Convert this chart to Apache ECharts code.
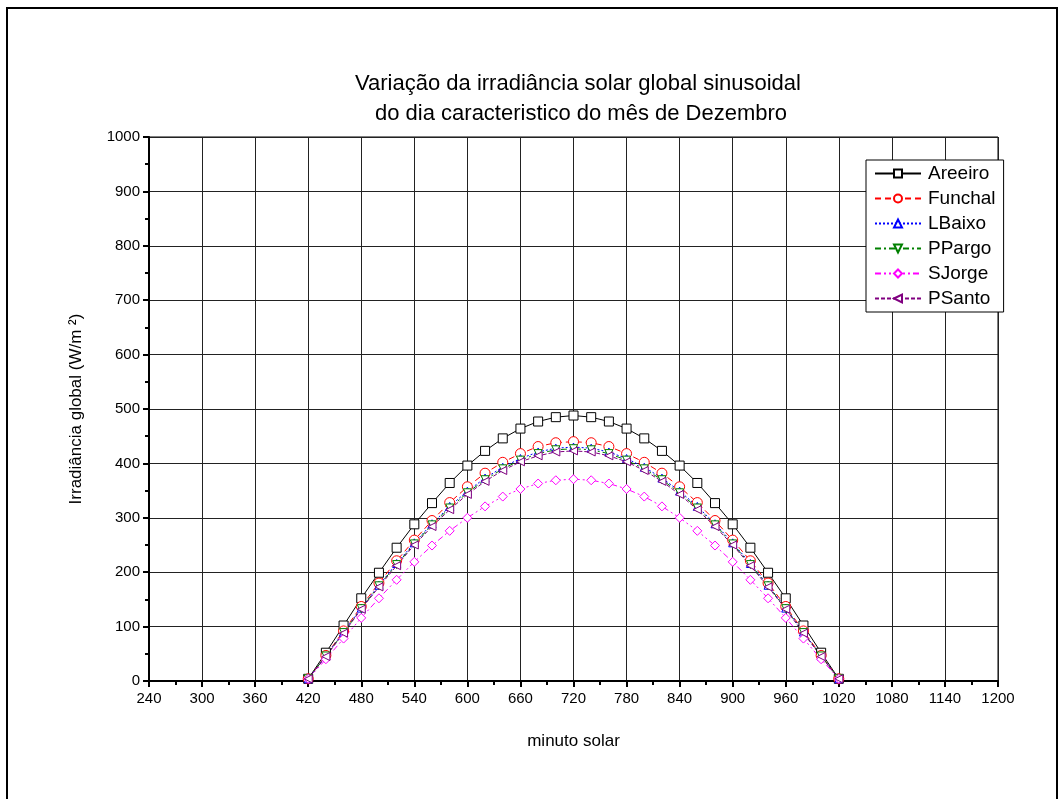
<!DOCTYPE html>
<html>
<head>
    <meta charset="utf-8">
    <title>Irradiância Dezembro</title>
    <script src="https://cdn.jsdelivr.net/npm/echarts@6/dist/echarts.min.js"></script>
    <style>
        html, body { margin: 0; padding: 0; background: #fff; }
        #main { width: 1062px; height: 799px; }
    </style>
</head>
<body>
<div id="main"></div>
<script type="text/javascript">
    // minuto solar, de 20 em 20
    var minutos = [420, 440, 460, 480, 500, 520, 540, 560, 580, 600, 620, 640, 660, 680, 700, 720,
        740, 760, 780, 800, 820, 840, 860, 880, 900, 920, 940, 960, 980, 1000, 1020];

    var areeiro = [4, 52, 102, 152, 199, 245, 288, 327, 364, 396, 423, 446, 464, 477, 485, 488,
        485, 477, 464, 446, 423, 396, 364, 327, 288, 245, 199, 152, 102, 52, 4];
    var funchal = [4, 47, 92, 137, 180, 221, 259, 295, 328, 357, 382, 402, 418, 431, 438, 440,
        438, 431, 418, 402, 382, 357, 328, 295, 259, 221, 180, 137, 92, 47, 4];
    var lbaixo = [4, 46, 90, 134, 176, 216, 254, 289, 321, 349, 373, 393, 409, 421, 428, 430,
        428, 421, 409, 393, 373, 349, 321, 289, 254, 216, 176, 134, 90, 46, 4];
    var ppargo = [4, 46, 89, 133, 175, 214, 252, 287, 318, 346, 370, 390, 406, 418, 425, 427,
        425, 418, 406, 390, 370, 346, 318, 287, 252, 214, 175, 133, 89, 46, 4];
    var sjorge = [4, 40, 78, 116, 152, 186, 219, 249, 276, 300, 321, 339, 353, 363, 369, 371,
        369, 363, 353, 339, 321, 300, 276, 249, 219, 186, 152, 116, 78, 40, 4];
    var psanto = [4, 45, 88, 132, 173, 212, 250, 284, 315, 343, 367, 387, 403, 414, 421, 423,
        421, 414, 403, 387, 367, 343, 315, 284, 250, 212, 173, 132, 88, 45, 4];

    var nomes = ['Areeiro', 'Funchal', 'LBaixo', 'PPargo', 'SJorge', 'PSanto'];
    var valores = [areeiro, funchal, lbaixo, ppargo, sjorge, psanto];
    var cores = ['#000000', '#ff0000', '#0000ff', '#008000', '#ff00ff', '#800080'];
    var simbolos = ['rect', 'circle', 'triangle', 'triangle', 'diamond', 'triangle'];
    var rotacoes = [0, 0, 0, 180, 0, 90];
    var tamanhos = [9, 10, 8, 8, 9, 8];
    var tracos = ['solid', [6, 4], [2, 2], [6, 3, 2, 3], [6, 3, 2, 3, 2, 3], [4, 2]];

    var fonte = 'Liberation Sans, Arial, sans-serif';

    var series = [];
    for (var i = 0; i < nomes.length; i++) {
        var pontos = [];
        for (var j = 0; j < minutos.length; j++) {
            pontos.push([minutos[j], valores[i][j]]);
        }
        series.push({
            name: nomes[i],
            type: 'line',
            data: pontos,
            symbol: simbolos[i],
            symbolRotate: rotacoes[i],
            symbolSize: tamanhos[i],
            showAllSymbol: true,
            lineStyle: { color: cores[i], width: 1, type: tracos[i] },
            itemStyle: { color: '#ffffff', borderColor: cores[i], borderWidth: 1 },
            emphasis: { disabled: true },
            animation: false
        });
    }

    var chart = echarts.init(document.getElementById('main'));
    var option = {
        backgroundColor: '#ffffff',
        textStyle: { fontFamily: fonte, color: '#000' },
        title: {
            text: 'Variação da irradiância solar global sinusoidal\n do dia caracteristico do mês de Dezembro',
            left: 573,
            top: 64,
            textAlign: 'center',
            textStyle: { fontFamily: fonte, fontSize: 22, fontWeight: 'normal', color: '#000', lineHeight: 30 }
        },
        legend: {
            orient: 'vertical',
            left: 866,
            top: 160,
            width: 137,
            padding: [3, 8, 3, 8],
            itemGap: 4,
            itemWidth: 46,
            itemHeight: 10,
            borderColor: '#000',
            borderWidth: 1,
            backgroundColor: '#fff',
            data: nomes,
            textStyle: { fontFamily: fonte, fontSize: 19, color: '#000', padding: [0, 0, 0, 2], lineHeight: 21 }
        },
        grid: {
            left: 149,
            right: 64,
            top: 137,
            bottom: 118,
            show: true,
            borderColor: '#000',
            borderWidth: 1
        },
        xAxis: {
            type: 'value',
            min: 240,
            max: 1200,
            interval: 60,
            name: 'minuto solar',
            nameLocation: 'middle',
            nameGap: 52,
            nameTextStyle: { fontFamily: fonte, fontSize: 17, color: '#000' },
            axisLine: { show: true, onZero: false, lineStyle: { color: '#000', width: 2 } },
            axisTick: { show: true, length: 6, lineStyle: { color: '#000', width: 2 } },
            minorTick: { show: true, splitNumber: 2, length: 4, lineStyle: { color: '#000', width: 2 } },
            axisLabel: {
                fontFamily: 'Liberation Sans Narrow, Liberation Sans, Arial, sans-serif', fontSize: 15, color: '#000', margin: 10,
                formatter: function (v) { return String(v); }
            },
            splitLine: { show: true, lineStyle: { color: '#222', width: 1 } }
        },
        yAxis: {
            type: 'value',
            min: 0,
            max: 1000,
            interval: 100,
            name: 'Irradiância global (W/m ²)',
            nameLocation: 'middle',
            nameGap: 64,
            nameTextStyle: { fontFamily: fonte, fontSize: 17, color: '#000' },
            axisLine: { show: true, lineStyle: { color: '#000', width: 2 } },
            axisTick: { show: true, length: 6, lineStyle: { color: '#000', width: 2 } },
            minorTick: { show: true, splitNumber: 2, length: 4, lineStyle: { color: '#000', width: 2 } },
            axisLabel: {
                fontFamily: fonte, fontSize: 15, color: '#000', margin: 9,
                formatter: function (v) { return String(v); }
            },
            splitLine: { show: true, lineStyle: { color: '#222', width: 1 } }
        },
        graphic: [{
            type: 'rect',
            shape: { x: 7, y: 8, width: 1050, height: 800 },
            style: { fill: null, stroke: '#000', lineWidth: 2 },
            silent: true
        }],
        series: series
    };
    chart.setOption(option);
</script>
</body>
</html>
